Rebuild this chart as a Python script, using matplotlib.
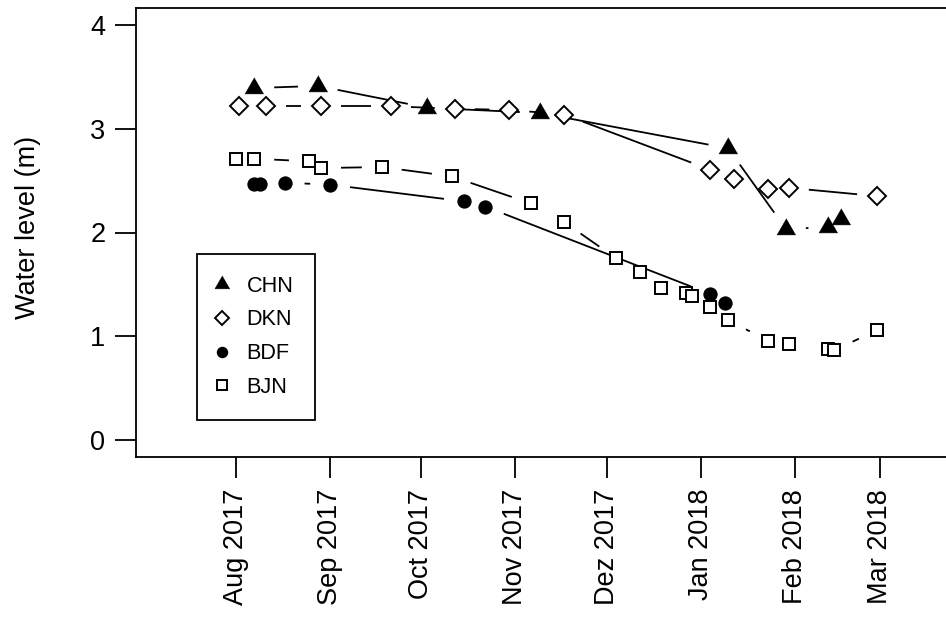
import matplotlib
matplotlib.use("Agg")
import matplotlib.pyplot as plt
import matplotlib.dates as mdates
from matplotlib.lines import Line2D
import numpy as np
import datetime as dt

plt.rcParams['font.family'] = ['Liberation Sans', 'DejaVu Sans']

# ---------------- data ----------------
chn_dates = ["2017-08-07", "2017-08-28", "2017-10-03", "2017-11-09",
             "2018-01-10", "2018-01-29", "2018-02-12", "2018-02-16"]
chn_level = [3.39, 3.41, 3.20, 3.15, 2.81, 2.035, 2.05, 2.13]

dkn_dates = ["2017-08-02", "2017-08-11", "2017-08-29", "2017-09-21",
             "2017-10-12", "2017-10-30", "2017-11-17", "2018-01-04",
             "2018-01-12", "2018-01-23", "2018-01-30", "2018-02-28"]
dkn_level = [3.215, 3.215, 3.215, 3.215, 3.19, 3.18, 3.135, 2.605,
             2.515, 2.42, 2.43, 2.35]

bdf_dates = ["2017-08-07", "2017-08-09", "2017-08-17", "2017-09-01",
             "2017-10-15", "2017-10-22", "2018-01-04", "2018-01-09"]
bdf_level = [2.47, 2.47, 2.48, 2.46, 2.30, 2.25, 1.41, 1.32]

bjn_dates = ["2017-08-01", "2017-08-07", "2017-08-25", "2017-08-29",
             "2017-09-18", "2017-10-11", "2017-11-06", "2017-11-17",
             "2017-12-04", "2017-12-12", "2017-12-19", "2017-12-27",
             "2017-12-29", "2018-01-04", "2018-01-10", "2018-01-23",
             "2018-01-30", "2018-02-12", "2018-02-14", "2018-02-28"]
bjn_level = [2.71, 2.71, 2.685, 2.62, 2.63, 2.54, 2.28, 2.10, 1.755, 1.62,
             1.47, 1.42, 1.39, 1.285, 1.157, 0.96, 0.93, 0.875, 0.868, 1.06]

series_names = ["CHN", "DKN", "BDF", "BJN"]

tick_dates = ["2017-08-01", "2017-09-01", "2017-10-01", "2017-11-01",
              "2017-12-01", "2018-01-01", "2018-02-01", "2018-03-01"]
tick_labels = ["Aug 2017", "Sep 2017", "Oct 2017", "Nov 2017",
               "Dez 2017", "Jan 2018", "Feb 2018", "Mar 2018"]

y_ticks = [0, 1, 2, 3, 4]
y_label = "Water level (m)"


def to_num(ds):
    return mdates.date2num([dt.datetime.strptime(d, "%Y-%m-%d") for d in ds])


# ---------------- figure ----------------
W, H = 946, 619
fig = plt.figure(figsize=(W / 100, H / 100), dpi=100)
ax = fig.add_axes([136 / W, (H - 457) / H, (W - 136) / W, (457 - 8) / H])

px_per_day = 3.038
x_ref = to_num(["2017-08-01"])[0]
ax.set_xlim(x_ref - 100 / px_per_day, x_ref + 710 / px_per_day)
ax.set_ylim(-0.16, 4.16)
ax.set_autoscale_on(False)

tri = [(0, 1), (-0.866, -0.5), (0.866, -0.5)]
styles = {
    "CHN": dict(marker=tri, ms=15.5, mfc="black", mec="black", mew=0.4),
    "DKN": dict(marker="D", ms=9.3, mfc="white", mec="black", mew=1.4),
    "BDF": dict(marker="o", ms=10.3, mfc="black", mec="black", mew=0.0),
    "BJN": dict(marker="s", ms=8.8, mfc="white", mec="black", mew=1.4),
}
data = {
    "CHN": (chn_dates, chn_level),
    "DKN": (dkn_dates, dkn_level),
    "BDF": (bdf_dates, bdf_level),
    "BJN": (bjn_dates, bjn_level),
}


def plot_b(ax, xs, ys, style, gap=20.0):
    """R-style type='b': line segments with gaps around the points."""
    pts = ax.transData.transform(np.column_stack([xs, ys]))
    inv = ax.transData.inverted()
    for p0, p1 in zip(pts[:-1], pts[1:]):
        d = np.hypot(*(p1 - p0))
        if d > 2 * gap:
            f = gap / d
            a = p0 + f * (p1 - p0)
            b = p1 - f * (p1 - p0)
            seg = inv.transform(np.array([a, b]))
            ax.plot(seg[:, 0], seg[:, 1], color="black", lw=1.3,
                    solid_capstyle="butt", zorder=2)
    ax.plot(xs, ys, linestyle="none", zorder=3, **style)


for name in series_names:
    ds, lv = data[name]
    plot_b(ax, to_num(ds), lv, styles[name])

# axes styling
for s in ["left", "bottom", "top"]:
    ax.spines[s].set_linewidth(1.3)
ax.spines["right"].set_visible(False)

ax.set_xticks(to_num(tick_dates))
ax.set_xticklabels(tick_labels, rotation=90)
ax.set_yticks(y_ticks)
ax.set_yticklabels([str(v) for v in y_ticks])
ax.tick_params(axis="both", direction="out", length=15, width=1.3,
               labelsize=19.5, colors="black")
ax.tick_params(axis="x", pad=8)
ax.tick_params(axis="y", pad=7)

fig.text(28 / W, 1 - 227.5 / H, y_label, rotation=90, ha="center",
         va="center", fontsize=19.5)

# legend
handles = []
for name in series_names:
    st = dict(styles[name])
    st["ms"] = st["ms"] * 0.8
    handles.append(Line2D([], [], linestyle="none", **st))
leg = ax.legend(handles, series_names, loc="upper left",
                bbox_to_anchor=(197 / W, 1 - 254 / H),
                bbox_transform=fig.transFigure, borderaxespad=0,
                fontsize=15.6, frameon=True, fancybox=False, framealpha=1,
                edgecolor="black", borderpad=1.0, labelspacing=0.59,
                handlelength=0.3, handletextpad=0.98)
leg.get_frame().set_linewidth(1.3)

fig.savefig("out.png", dpi=100)
